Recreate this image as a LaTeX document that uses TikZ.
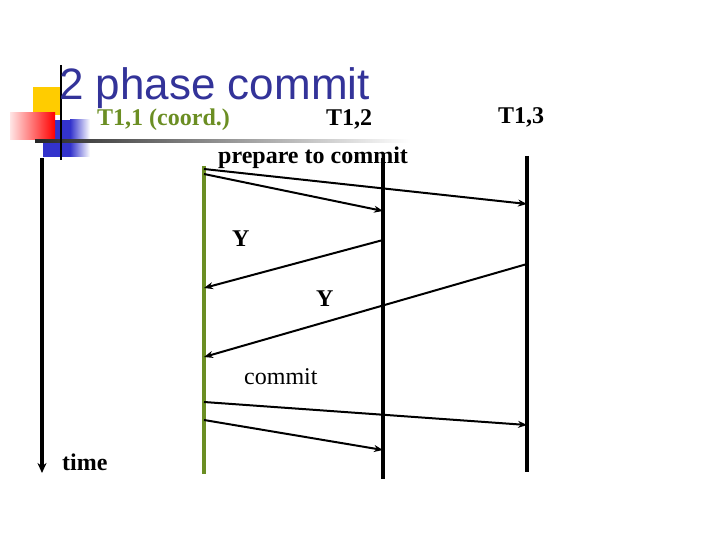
\documentclass[tikz,border=0pt]{standalone}
\usepackage{fontspec}
\setmainfont{Liberation Serif}
\newfontfamily\titlefont{Liberation Sans}
\usetikzlibrary{arrows.meta}
\definecolor{titleblue}{RGB}{51,51,153}
\definecolor{coordgreen}{RGB}{107,142,35}
\definecolor{slideyellow}{RGB}{255,204,0}
\definecolor{slideblue}{RGB}{51,51,204}

\begin{document}
\begin{tikzpicture}[x=1pt, y=-1pt,
    lbl/.style={inner sep=0pt, anchor=base west, font=\fontsize{24}{28}\selectfont\bfseries},
    life/.style={line width=3.5pt},
    msg/.style={line width=2pt, -{Stealth[length=9pt, width=7pt]}}]
  \useasboundingbox (0,0) rectangle (720,540);
  % slide decoration
  \fill[slideyellow] (33,87) rectangle (60,115);
  \fill[slideblue] (43,120) rectangle (70,157);
  \shade[left color=slideblue, right color=white] (70,120) rectangle (90,157);
  \shade[left color=red!10, right color=red] (10,113) rectangle (55,140);
  \shade[left color=black!85, right color=white] (35,140) rectangle (410,143);
  \draw[line width=2pt] (61,65) -- (61,160);
  \node[anchor=base west, inner sep=0pt, text=titleblue,
        font=\titlefont\fontsize{44}{50}\selectfont] (title) at (59,100) {2 phase commit};

  % participants
  \node[lbl, text=coordgreen] (t11) at (97,126) {T1,1 (coord.)};
  \node[lbl] (t12) at (326,126) {T1,2};
  \node[lbl] (t13) at (498,124) {T1,3};

  % lifelines
  \coordinate (timetop) at (42,158);
  \coordinate (timebot) at (42,473);
  \coordinate (p1top) at (204,166);
  \coordinate (p1bot) at (204,474);
  \coordinate (p2top) at (383,158);
  \coordinate (p2bot) at (383,479);
  \coordinate (p3top) at (527,156);
  \coordinate (p3bot) at (527,472);
  \draw[line width=3.5pt, -{Stealth[length=10pt, width=9pt]}] (timetop) -- (timebot);
  \draw[life, coordgreen] (p1top) -- (p1bot);
  \draw[life] (p2top) -- (p2bot);
  \draw[life] (p3top) -- (p3bot);

  % message ends
  \coordinate (prep1) at (204,169);
  \coordinate (prep3) at (527,204);
  \coordinate (prep0) at (204,174);
  \coordinate (prep2) at (383,211);
  \coordinate (yes2) at (383,240);
  \coordinate (yes21) at (204,288);
  \coordinate (yes3) at (527,264);
  \coordinate (yes31) at (204,357);
  \coordinate (com1) at (204,402);
  \coordinate (com3) at (527,425);
  \coordinate (com0) at (204,420);
  \coordinate (com2) at (383,450);
  \draw[msg] (prep1) -- (prep3);
  \draw[msg] (prep0) -- (prep2);
  \draw[msg] (yes2) -- (yes21);
  \draw[msg] (yes3) -- (yes31);
  \draw[msg] (com1) -- (com3);
  \draw[msg] (com0) -- (com2);

  % labels
  \node[lbl] (prep) at (218,164) {prepare to commit};
  \node[lbl] (y2) at (232,246) {Y};
  \node[lbl] (y3) at (316,306) {Y};
  \node[lbl, font=\fontsize{24}{28}\selectfont] (com) at (244,384) {commit};
  \node[lbl] (time) at (62,470) {time};
\end{tikzpicture}
\end{document}
